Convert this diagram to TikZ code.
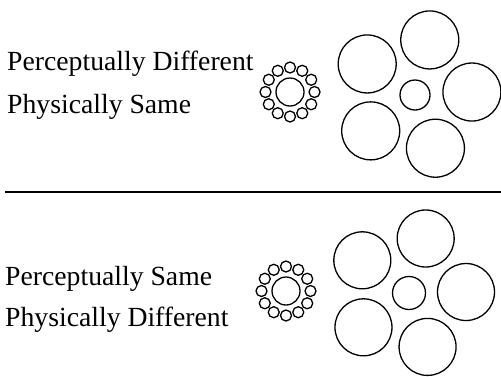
\documentclass[tikz,border=0pt]{standalone}
\usepackage{fontspec}
\setmainfont{Liberation Serif}
\usetikzlibrary{positioning, calc}

\begin{document}
\begin{tikzpicture}[
    x=1bp, y=-1bp,
    txt/.style={anchor=base west, inner sep=0pt,
                font=\fontsize{27.8}{33}\selectfont},
    disc/.style={draw, circle, inner sep=0pt, outer sep=0pt,
                 line width=1.3bp, minimum size=#1},
    rule/.style={line width=1.8bp}
  ]
  \useasboundingbox (0,0) rectangle (501,376);

  % upper panel: centres physically equal
  \node[txt] (diffA) at (7,70.5)  {Perceptually Different};
  \node[txt] (sameA) at (7,113) {Physically Same};

  \node[disc=28bp] (smallctrA) at (290,92) {};
  \foreach \a [count=\i] in {0,30,...,330}
    \node[disc=11bp] (smallA\i) at ($(smallctrA)+(\a:24.5 and -24.5)$) {};

  \node[disc=30bp] (bigctrA) at (415,95) {};
  \foreach \a [count=\i] in {3,75,147,219,291}
    \node[disc=58bp] (bigA\i) at ($(bigctrA)+(\a:57 and -57)$) {};

  % separator
  \coordinate (ruleL) at (5,192);
  \coordinate (ruleR) at (501,192);
  \draw[rule] (ruleL) -- (ruleR);

  % lower panel: centres physically different
  \node[txt] (sameB) at (5,285.5)  {Perceptually Same};
  \node[txt] (diffB) at (5,326.5)  {Physically Different};

  \node[disc=28bp] (smallctrB) at (286,291) {};
  \foreach \a [count=\i] in {0,30,...,330}
    \node[disc=11bp] (smallB\i) at ($(smallctrB)+(\a:24.5 and -24.5)$) {};

  \node[disc=33bp] (bigctrB) at (409,293) {};
  \foreach \a [count=\i] in {1,73,145,217,289}
    \node[disc=57bp] (bigB\i) at ($(bigctrB)+(\a:57 and -57)$) {};
\end{tikzpicture}
\end{document}
